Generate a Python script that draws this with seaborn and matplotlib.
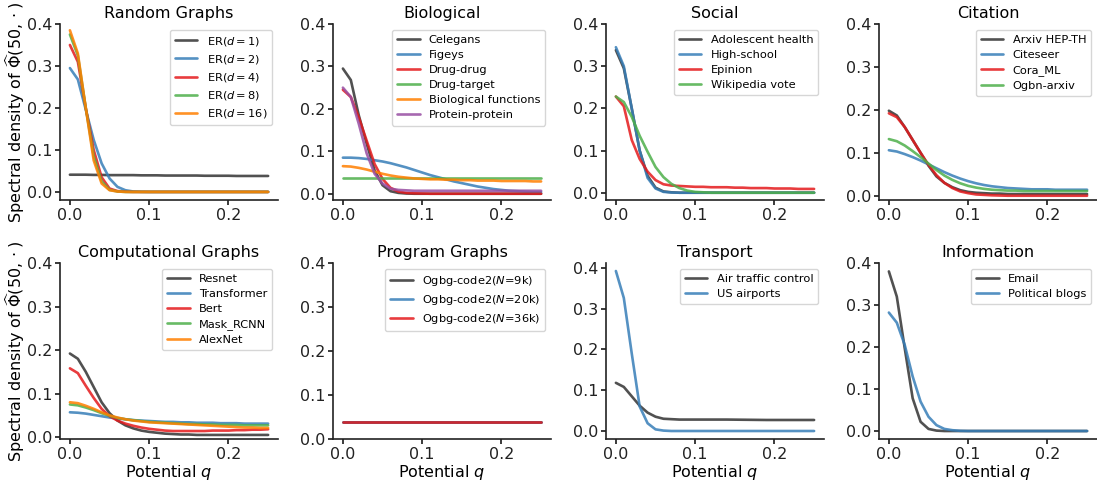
import numpy as np
import pandas as pd
import matplotlib
matplotlib.use("Agg")
import matplotlib.pyplot as plt
import seaborn as sns

sns.set_theme(style="ticks", rc={
    'text.color': 'black', 'axes.labelcolor': 'black', 'xtick.color': '#222222',
    'ytick.color': '#222222', 'axes.edgecolor': '#222222', 'axes.linewidth': 1.2,
})
plt.rcParams['font.family'] = ['DejaVu Sans']
plt.rcParams['mathtext.fontset'] = 'dejavusans'

q = [round(0.01 * i, 2) for i in range(26)]

# ---------------- data ----------------
rg_names = [r'ER($d=1$)', r'ER($d=2$)', r'ER($d=4$)', r'ER($d=8$)', r'ER($d=16$)']
rg_d1 = [0.041, 0.041, 0.041, 0.0405, 0.0405, 0.040, 0.040, 0.040, 0.040, 0.0395, 0.0395, 0.0395, 0.039,
         0.039, 0.039, 0.039, 0.039, 0.0385, 0.0385, 0.0385, 0.0385, 0.038, 0.038, 0.038, 0.038, 0.038]
rg_d2 = [0.295, 0.268, 0.196, 0.124, 0.068, 0.032, 0.012, 0.004, 0.001, 0.0003, 0, 0, 0, 0, 0, 0, 0, 0, 0, 0, 0, 0, 0, 0, 0, 0]
rg_d4 = [0.350, 0.310, 0.200, 0.100, 0.035, 0.008, 0.002, 0.0005, 0, 0, 0, 0, 0, 0, 0, 0, 0, 0, 0, 0, 0, 0, 0, 0, 0, 0]
rg_d8 = [0.375, 0.325, 0.200, 0.085, 0.025, 0.005, 0.001, 0, 0, 0, 0, 0, 0, 0, 0, 0, 0, 0, 0, 0, 0, 0, 0, 0, 0, 0]
rg_d16 = [0.385, 0.330, 0.200, 0.075, 0.020, 0.004, 0.001, 0, 0, 0, 0, 0, 0, 0, 0, 0, 0, 0, 0, 0, 0, 0, 0, 0, 0, 0]

bio_names = ['Celegans', 'Figeys', 'Drug-drug', 'Drug-target', 'Biological functions', 'Protein-protein']
bio_celegans = [0.295, 0.268, 0.185, 0.118, 0.055, 0.020, 0.006, 0.002, 0.0005, 0, 0, 0, 0, 0, 0, 0, 0, 0, 0, 0, 0, 0, 0, 0, 0, 0]
bio_figeys = [0.085, 0.085, 0.084, 0.082, 0.079, 0.076, 0.072, 0.067, 0.062, 0.056, 0.050, 0.044, 0.039, 0.034,
              0.029, 0.025, 0.021, 0.017, 0.014, 0.011, 0.009, 0.007, 0.006, 0.005, 0.004, 0.004]
bio_drugdrug = [0.245, 0.228, 0.180, 0.125, 0.070, 0.035, 0.014, 0.005, 0.002, 0.001, 0.0005, 0, 0, 0, 0, 0, 0, 0, 0, 0, 0, 0, 0, 0, 0, 0]
bio_drugtarget = [0.038] * 26
bio_biofunc = [0.065, 0.064, 0.061, 0.057, 0.052, 0.047, 0.043, 0.040, 0.038, 0.036, 0.035, 0.034, 0.034, 0.033,
               0.033, 0.032, 0.032, 0.031, 0.031, 0.031, 0.030, 0.030, 0.030, 0.030, 0.029, 0.029]
bio_protein = [0.250, 0.228, 0.165, 0.095, 0.047, 0.024, 0.012, 0.009, 0.008, 0.007, 0.007, 0.007, 0.007, 0.007,
               0.007, 0.007, 0.007, 0.007, 0.007, 0.007, 0.007, 0.007, 0.007, 0.007, 0.007, 0.007]

soc_names = ['Adolescent health', 'High-school', 'Epinion', 'Wikipedia vote']
soc_adol = [0.338, 0.295, 0.200, 0.100, 0.040, 0.012, 0.003, 0.001, 0, 0, 0, 0, 0, 0, 0, 0, 0, 0, 0, 0, 0, 0, 0, 0, 0, 0]
soc_high = [0.345, 0.300, 0.200, 0.100, 0.035, 0.010, 0.002, 0.0005, 0, 0, 0, 0, 0, 0, 0, 0, 0, 0, 0, 0, 0, 0, 0, 0, 0, 0]
soc_epin = [0.228, 0.205, 0.125, 0.080, 0.050, 0.030, 0.020, 0.017, 0.016, 0.015, 0.014, 0.014, 0.013, 0.013,
            0.013, 0.012, 0.012, 0.011, 0.011, 0.011, 0.010, 0.010, 0.010, 0.009, 0.009, 0.009]
soc_wiki = [0.228, 0.215, 0.180, 0.135, 0.097, 0.061, 0.037, 0.021, 0.011, 0.005, 0.002, 0.001, 0, 0, 0, 0, 0, 0, 0, 0, 0, 0, 0, 0, 0, 0]

cit_names = ['Arxiv HEP-TH', 'Citeseer', 'Cora_ML', 'Ogbn-arxiv']
cit_arxiv = [0.198, 0.187, 0.160, 0.130, 0.100, 0.070, 0.045, 0.030, 0.020, 0.013, 0.009, 0.007, 0.006, 0.005,
             0.005, 0.004, 0.004, 0.004, 0.004, 0.004, 0.004, 0.004, 0.004, 0.004, 0.004, 0.004]
cit_citeseer = [0.106, 0.103, 0.097, 0.090, 0.082, 0.073, 0.064, 0.055, 0.047, 0.040, 0.034, 0.029, 0.025, 0.022,
                0.020, 0.018, 0.017, 0.016, 0.015, 0.015, 0.015, 0.014, 0.014, 0.014, 0.014, 0.014]
cit_cora = [0.192, 0.183, 0.160, 0.130, 0.100, 0.072, 0.048, 0.030, 0.018, 0.010, 0.006, 0.003, 0.002, 0.001,
            0.0005, 0, 0, 0, 0, 0, 0, 0, 0, 0, 0, 0]
cit_ogbn = [0.132, 0.127, 0.117, 0.104, 0.090, 0.075, 0.060, 0.047, 0.037, 0.029, 0.023, 0.019, 0.016, 0.014,
            0.013, 0.012, 0.012, 0.011, 0.011, 0.011, 0.011, 0.011, 0.011, 0.011, 0.011, 0.011]

comp_names = ['Resnet', 'Transformer', 'Bert', 'Mask_RCNN', 'AlexNet']
comp_resnet = [0.192, 0.180, 0.150, 0.115, 0.080, 0.055, 0.038, 0.027, 0.020, 0.015, 0.012, 0.010, 0.008, 0.007,
               0.006, 0.006, 0.005, 0.005, 0.005, 0.005, 0.005, 0.005, 0.005, 0.005, 0.005, 0.005]
comp_transformer = [0.057, 0.056, 0.054, 0.051, 0.048, 0.045, 0.043, 0.041, 0.039, 0.038, 0.037, 0.036, 0.035, 0.035,
                    0.034, 0.034, 0.033, 0.033, 0.033, 0.032, 0.032, 0.032, 0.031, 0.031, 0.031, 0.031]
comp_bert = [0.158, 0.147, 0.118, 0.090, 0.065, 0.048, 0.038, 0.031, 0.026, 0.022, 0.019, 0.017, 0.015, 0.014,
             0.014, 0.014, 0.014, 0.014, 0.015, 0.015, 0.015, 0.016, 0.016, 0.017, 0.017, 0.018]
comp_mask = [0.075, 0.073, 0.068, 0.062, 0.055, 0.049, 0.044, 0.041, 0.039, 0.037, 0.035, 0.034, 0.033, 0.032,
             0.031, 0.030, 0.030, 0.029, 0.029, 0.028, 0.028, 0.028, 0.027, 0.027, 0.027, 0.027]
comp_alex = [0.080, 0.078, 0.072, 0.065, 0.057, 0.050, 0.045, 0.041, 0.038, 0.036, 0.034, 0.033, 0.032, 0.031,
             0.030, 0.029, 0.028, 0.027, 0.026, 0.025, 0.024, 0.023, 0.022, 0.022, 0.021, 0.021]

prog_names = [r'Ogbg-code2($N$=9k)', r'Ogbg-code2($N$=20k)', r'Ogbg-code2($N$=36k)']
prog_9k = [0.038] * 26
prog_20k = [0.038] * 26
prog_36k = [0.038] * 26

tr_names = ['Air traffic control', 'US airports']
tr_air = [0.118, 0.108, 0.085, 0.062, 0.045, 0.035, 0.030, 0.029, 0.028, 0.028, 0.028, 0.028, 0.028, 0.028,
          0.028, 0.0278, 0.0276, 0.0274, 0.0272, 0.027, 0.027, 0.027, 0.027, 0.027, 0.027, 0.027]
tr_us = [0.392, 0.326, 0.190, 0.060, 0.019, 0.004, 0.001, 0, 0, 0, 0, 0, 0, 0, 0, 0, 0, 0, 0, 0, 0, 0, 0, 0, 0, 0]

inf_names = ['Email', 'Political blogs']
inf_email = [0.380, 0.320, 0.197, 0.078, 0.022, 0.005, 0.001, 0, 0, 0, 0, 0, 0, 0, 0, 0, 0, 0, 0, 0, 0, 0, 0, 0, 0, 0]
inf_blogs = [0.282, 0.258, 0.205, 0.130, 0.070, 0.034, 0.014, 0.005, 0.002, 0.0005, 0, 0, 0, 0, 0, 0, 0, 0, 0, 0, 0, 0, 0, 0, 0, 0]

panels = [
    ('Random Graphs', rg_names, [rg_d1, rg_d2, rg_d4, rg_d8, rg_d16]),
    ('Biological', bio_names, [bio_celegans, bio_figeys, bio_drugdrug, bio_drugtarget, bio_biofunc, bio_protein]),
    ('Social', soc_names, [soc_adol, soc_high, soc_epin, soc_wiki]),
    ('Citation', cit_names, [cit_arxiv, cit_citeseer, cit_cora, cit_ogbn]),
    ('Computational Graphs', comp_names, [comp_resnet, comp_transformer, comp_bert, comp_mask, comp_alex]),
    ('Program Graphs', prog_names, [prog_9k, prog_20k, prog_36k]),
    ('Transport', tr_names, [tr_air, tr_us]),
    ('Information', inf_names, [inf_email, inf_blogs]),
]

colors = ['#333333', '#377eb8', '#e41a1c', '#4daf4a', '#ff7f00', '#984ea3']

fig, axes = plt.subplots(2, 4, figsize=(10.97, 4.84), dpi=100)
fig.subplots_adjust(left=60 / 1097, right=1.0, top=1 - 24 / 484, bottom=1 - 439 / 484,
                    wspace=0.252, hspace=0.358)

for idx, (ax, (title, names, series)) in enumerate(zip(axes.flat, panels)):
    rows = []
    for name, vals in zip(names, series):
        for qq, v in zip(q, vals):
            rows.append({'q': qq, 'val': v, 'name': name})
    df = pd.DataFrame(rows)
    sns.lineplot(data=df, x='q', y='val', hue='name', hue_order=names,
                 palette=colors[:len(names)], ax=ax, linewidth=1.9, alpha=0.85)
    ax.set_title(title, fontsize=11.5, pad=4)
    ax.set_xlabel('Potential $q$' if idx >= 4 else '', fontsize=11.5, labelpad=1)
    ax.set_ylabel(r'Spectral density of $\widehat{\Phi}(50,\cdot)$' if idx % 4 == 0 else '',
                  fontsize=11.5, labelpad=0)
    ax.set_xticks([0.0, 0.1, 0.2])
    ax.set_yticks([0.0, 0.1, 0.2, 0.3, 0.4])
    ax.tick_params(labelsize=11.5, length=3.5, pad=2)
    if title == 'Program Graphs':
        ax.set_ylim(0, 0.4)
    elif title != 'Transport':
        ax.set_ylim(top=0.4)
    leg = ax.legend(loc='upper right', fontsize=8.2, title=None, handlelength=2.0,
                    labelspacing=0.45, borderpad=0.45, handletextpad=0.8)
    sns.despine(ax=ax)

fig.savefig('out.png', dpi=100)
